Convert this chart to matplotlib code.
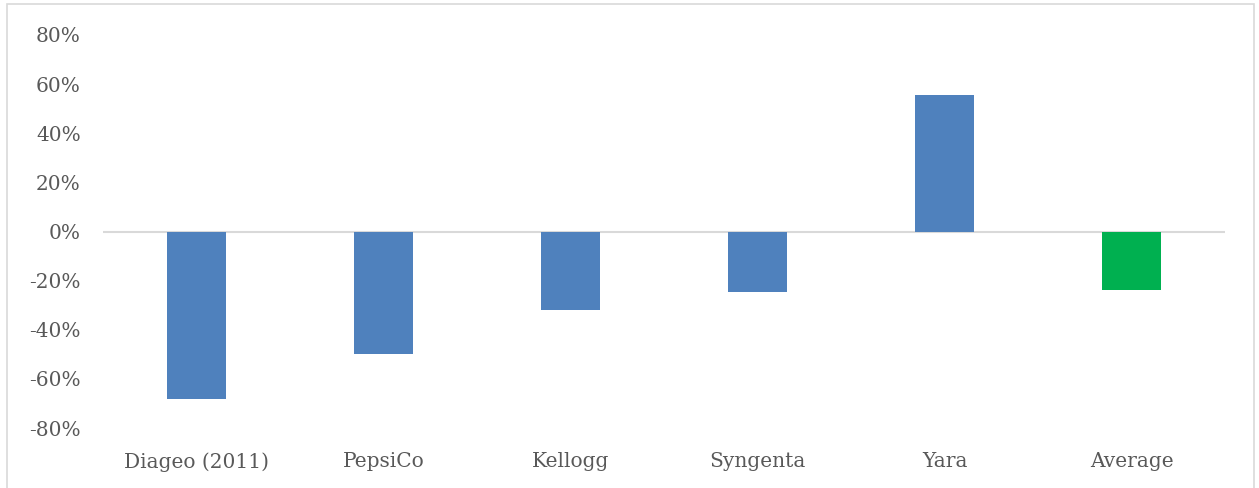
import matplotlib.pyplot as plt
from matplotlib.patches import Rectangle
from matplotlib.ticker import FuncFormatter

empresas = ['Diageo (2011)', 'PepsiCo', 'Kellogg', 'Syngenta', 'Yara', 'Average']
valores = [-0.68, -0.50, -0.32, -0.245, 0.555, -0.24]
colores = ['#4f81bd', '#4f81bd', '#4f81bd', '#4f81bd', '#4f81bd', '#00b050']
yticks = [-0.8, -0.6, -0.4, -0.2, 0.0, 0.2, 0.4, 0.6, 0.8]

plt.rcParams['font.family'] = ['DejaVu Serif']

fig = plt.figure(figsize=(12.59, 4.88), dpi=100)
ax = fig.add_axes([103/1259, 1-428/488, (1225-103)/1259, (428-35)/488])

x = list(range(len(empresas)))
ax.bar(x, valores, width=0.32, color=colores, zorder=3)
ax.axhline(0, color='#d9d9d9', linewidth=1.5, zorder=2)

ax.set_xlim(-0.5, len(empresas)-0.5)
ax.set_ylim(-0.8, 0.8)
ax.set_yticks(yticks)
ax.yaxis.set_major_formatter(FuncFormatter(lambda v, p: '%d%%' % round(v*100)))
ax.set_xticks(x)
ax.set_xticklabels(empresas)
ax.tick_params(axis='both', length=0, labelsize=14.5, colors='#595959')
ax.tick_params(axis='y', pad=16)
ax.tick_params(axis='x', pad=17.5)
for s in ax.spines.values():
    s.set_visible(False)

#Borde del grafico
fig.patches.append(Rectangle((7/1259, -0.01), (1254-7)/1259, 1-4/488+0.01,
                             transform=fig.transFigure, fill=False,
                             edgecolor='#d9d9d9', linewidth=1.2))

fig.savefig('out.png', dpi=100)
